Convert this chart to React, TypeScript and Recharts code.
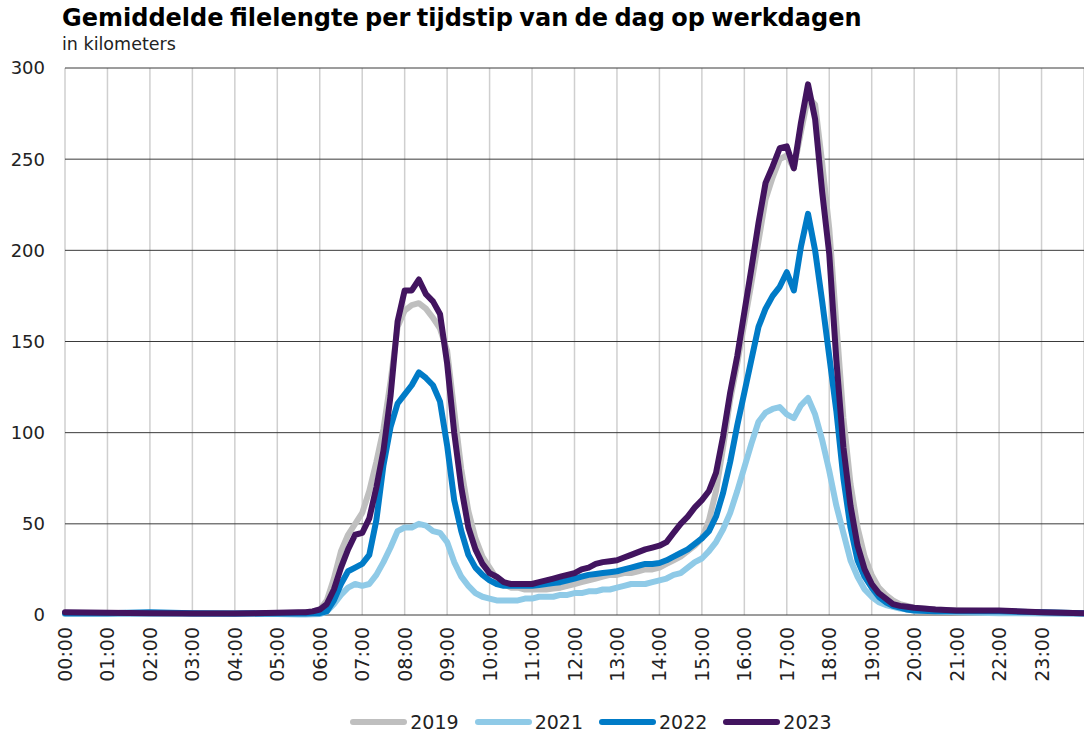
import { LineChart, Line, XAxis, YAxis, CartesianGrid, Legend } from "recharts";

// tijdstippen (ochtend/avond fijner bemonsterd)
const times = [
  "00:00", "01:00", "02:00", "03:00", "04:00", "05:00",
  "05:30", "05:40", "05:50",
  "06:00", "06:10", "06:20", "06:30", "06:40", "06:50",
  "07:00", "07:10", "07:20", "07:30", "07:40", "07:50",
  "08:00", "08:10", "08:20", "08:30", "08:40", "08:50",
  "09:00", "09:10", "09:20", "09:30", "09:40", "09:50",
  "10:00", "10:10", "10:20", "10:30", "10:40", "10:50",
  "11:00", "11:10", "11:20", "11:30", "11:40", "11:50",
  "12:00", "12:10", "12:20", "12:30", "12:40", "12:50",
  "13:00", "13:10", "13:20", "13:30", "13:40", "13:50",
  "14:00", "14:10", "14:20", "14:30", "14:40", "14:50",
  "15:00", "15:10", "15:20", "15:30", "15:40", "15:50",
  "16:00", "16:10", "16:20", "16:30", "16:40", "16:50",
  "17:00", "17:10", "17:20", "17:30", "17:40", "17:50",
  "18:00", "18:10", "18:20", "18:30", "18:40", "18:50",
  "19:00", "19:10", "19:20", "19:30", "19:40", "19:50",
  "20:00", "20:30", "21:00", "22:00", "23:00", "23:59",
];

const values2019 = [
  1, 1, 0.8, 0.8, 0.8, 1,
  1, 1.5, 2,
  3, 8, 20, 35, 44, 50,
  56, 68, 84, 102, 128, 158,
  167, 170, 171, 168, 163, 157,
  145, 112, 80, 57, 42, 32,
  26, 20, 17, 15, 15, 14,
  14, 14, 14, 14.5, 15, 16,
  17, 18, 19, 20, 21, 22,
  22, 23, 23, 24, 25, 25,
  26, 28, 30, 32, 35, 38,
  42, 52, 68, 92, 118, 138,
  160, 182, 205, 228, 240, 250,
  252, 245, 265, 284, 280, 248,
  212, 160, 108, 72, 48, 32,
  22, 15, 11, 8, 6, 5,
  4, 3, 2.5, 2, 1.5, 1,
];

const values2021 = [
  0.5, 0.5, 0.5, 0.5, 0.5, 0.5,
  0.3, 0.3, 0.4,
  0.5, 2, 6, 11, 15, 17,
  16, 17, 22, 29, 37, 46,
  48, 48, 50, 49, 46, 45,
  40, 29, 21, 16, 12, 10,
  9, 8, 8, 8, 8, 9,
  9, 10, 10, 10, 11, 11,
  12, 12, 13, 13, 14, 14,
  15, 16, 17, 17, 17, 18,
  19, 20, 22, 23, 26, 29,
  31, 35, 40, 47, 56, 68,
  81, 94, 106, 111, 113, 114,
  110, 108, 115, 119, 110, 96,
  79, 60, 45, 30, 21, 14,
  10, 7, 5.5, 4.5, 3.5, 3,
  2.5, 2, 1.5, 1, 0.8, 0.5,
];

const values2022 = [
  1, 1, 1.5, 1, 0.8, 1,
  0.8, 0.8, 1,
  1, 2, 8, 17, 24, 26,
  28, 33, 52, 82, 103, 116,
  121, 126, 133, 130, 126, 117,
  93, 63, 46, 33, 26, 22,
  19, 17, 16, 16, 16, 16,
  16, 16.5, 17, 17.5, 18, 19,
  20, 21, 22, 22.5, 23, 23.5,
  24, 25, 26, 27, 28, 28,
  28.5, 30, 32, 34, 36, 39,
  42, 46, 54, 67, 84, 104,
  122, 140, 158, 168, 175, 180,
  188, 178, 202, 220, 200, 172,
  142, 112, 75, 48, 30, 21,
  15, 10, 7, 5, 4, 3,
  2.5, 2, 2, 2, 1.5, 1,
];

const values2023 = [
  1.5, 1.2, 1, 0.8, 0.8, 1.2,
  1.5, 1.5, 2,
  3, 6, 14, 26, 36, 44,
  45, 53, 70, 90, 120, 161,
  178, 178, 184, 176, 172, 165,
  138, 100, 70, 48, 36, 28,
  23, 21, 18, 17, 17, 17,
  17, 18, 19, 20, 21, 22,
  23, 25, 26, 28, 29, 29.5,
  30, 31.5, 33, 34.5, 36, 37,
  38, 40, 45, 50, 54, 59,
  63, 68, 78, 98, 122, 142,
  166, 190, 215, 237, 246, 256,
  257, 245, 270, 291, 272, 232,
  198, 140, 92, 60, 38, 25,
  17, 12, 9, 6, 5, 4.5,
  4, 3, 2.5, 2.5, 1.5, 1,
];

const hourLabels = [
  "00:00", "01:00", "02:00", "03:00", "04:00", "05:00", "06:00", "07:00",
  "08:00", "09:00", "10:00", "11:00", "12:00", "13:00", "14:00", "15:00",
  "16:00", "17:00", "18:00", "19:00", "20:00", "21:00", "22:00", "23:00",
];

const yTicks = [0, 50, 100, 150, 200, 250, 300];

const series = [
  { key: "y2019", name: "2019", color: "#BFBFBF" },
  { key: "y2021", name: "2021", color: "#8FCAE7" },
  { key: "y2022", name: "2022", color: "#007BC7" },
  { key: "y2023", name: "2023", color: "#42145F" },
];

const FONT = "'DejaVu Sans', Verdana, sans-serif";

const toMinutes = (t: string) => {
  const [h, m] = t.split(":").map(Number);
  return h * 60 + m;
};

const data = times.map((t, i) => ({
  minute: toMinutes(t),
  y2019: values2019[i],
  y2021: values2021[i],
  y2022: values2022[i],
  y2023: values2023[i],
}));

const hourTicks = hourLabels.map(toMinutes);

const HourTick = ({ x, y, payload }: any) => {
  const label = hourLabels[hourTicks.indexOf(payload.value)];
  return (
    <text
      transform={`translate(${x + 7},${y + 4}) rotate(-90)`}
      textAnchor="end"
      fontSize={19}
      fontFamily={FONT}
      fill="#222"
    >
      {label}
    </text>
  );
};

const LegendContent = () => (
  <div
    style={{
      display: "flex",
      justifyContent: "center",
      alignItems: "center",
      height: 24,
      fontFamily: FONT,
      fontSize: 19,
      color: "#222",
      paddingLeft: 114,
    }}
  >
    {series.map((s) => (
      <div key={s.key} style={{ display: "flex", alignItems: "center", marginRight: 16 }}>
        <div style={{ width: 57, height: 6, borderRadius: 3, background: s.color, marginRight: 3 }} />
        <span>{s.name}</span>
      </div>
    ))}
  </div>
);

export default function App() {
  return (
    <div style={{ position: "absolute", left: 0, top: 0, width: 1084, height: 735, background: "#fff", fontFamily: FONT }}>
      <div
        style={{
          position: "absolute",
          left: 62,
          top: 4,
          fontSize: 24,
          fontWeight: "bold",
          wordSpacing: -2,
          color: "#000",
          whiteSpace: "nowrap",
        }}
      >
        Gemiddelde filelengte per tijdstip van de dag op werkdagen
      </div>
      <div style={{ position: "absolute", left: 62, top: 34, fontSize: 17.5, color: "#222" }}>in kilometers</div>
      <LineChart width={1084} height={735} data={data} margin={{ top: 68, right: 0, left: 0, bottom: 16 }}>
        <CartesianGrid horizontal={false} stroke="#cfcfcf" strokeWidth={1.5} />
        <CartesianGrid vertical={false} stroke="#3a3a3a" strokeWidth={1} />
        <XAxis
          dataKey="minute"
          type="number"
          domain={[0, 1440]}
          ticks={hourTicks}
          interval={0}
          height={80}
          axisLine={false}
          tickLine={false}
          tick={<HourTick />}
        />
        <YAxis
          domain={[0, 300]}
          ticks={yTicks}
          width={65}
          axisLine={false}
          tickLine={false}
          tickMargin={14}
          tick={{ fontSize: 18, fill: "#222", fontFamily: FONT }}
        />
        <Legend verticalAlign="bottom" content={<LegendContent />} wrapperStyle={{ bottom: 1 }} />
        {series.map((s) => (
          <Line
            key={s.key}
            dataKey={s.key}
            name={s.name}
            type="linear"
            stroke={s.color}
            strokeWidth={6}
            strokeLinejoin="round"
            strokeLinecap="round"
            dot={false}
            isAnimationActive={false}
          />
        ))}
      </LineChart>
    </div>
  );
}
